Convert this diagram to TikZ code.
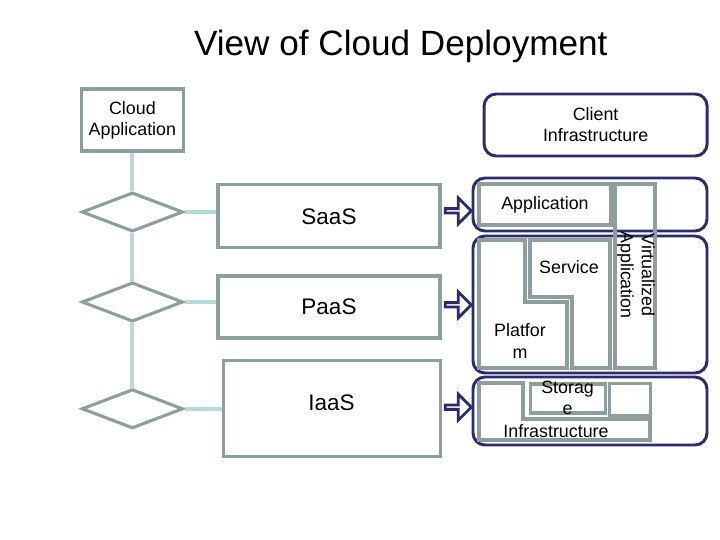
\documentclass[tikz,border=0pt]{standalone}
\usepackage{fontspec}
\setmainfont{Liberation Sans}
\usetikzlibrary{shapes.geometric, shapes.arrows}
\definecolor{boxgray}{RGB}{140,158,158}
\definecolor{linkblue}{RGB}{180,218,218}
\definecolor{deepnavy}{RGB}{43,43,114}

\begin{document}
\begin{tikzpicture}[scale=1,
  grbox/.style={rectangle,draw=boxgray,line width=2.2pt,inner sep=0pt,align=center},
  nvbox/.style={rectangle,rounded corners=0.3cm,draw=deepnavy,line width=2.1pt,inner sep=0pt,align=center},
  grshape/.style={draw=boxgray,line width=2.2pt},
  choice/.style={diamond,draw=boxgray,line width=2.2pt,inner sep=0pt,minimum width=2.53cm,minimum height=0.98cm},
  link/.style={draw=linkblue,line width=2.8pt},
  goes/.style={single arrow,draw=deepnavy,fill=white,line width=2pt,inner sep=0pt,minimum width=0.65cm,minimum height=0.65cm,single arrow head extend=0.175cm},
  lbl/.style={font=\fontsize{12.7}{15}\selectfont,align=center,inner sep=0pt},
  big/.style={font=\fontsize{16}{19}\selectfont}]

\useasboundingbox (0,0) rectangle (18,-13.5);

\node[font=\fontsize{25}{30}\selectfont] (title) at (10.02,-1.15) {View of Cloud Deployment};

% left column
\node[grbox,lbl,minimum width=2.55cm,minimum height=1.55cm] (cloud) at (3.31,-3.0) {Cloud\\Application};

\node[choice] (d1) at (3.31,-5.3) {};
\node[choice] (d2) at (3.31,-7.55) {};
\node[choice] (d3) at (3.31,-10.22) {};

\node[grbox,big,minimum width=5.55cm,minimum height=1.575cm] (saas) at (8.225,-5.41) {SaaS};
\node[grbox,big,minimum width=5.55cm,minimum height=1.55cm] (paas) at (8.225,-7.675) {PaaS};
\node[grbox,big,minimum width=5.425cm,minimum height=2.4cm,text depth=0.3cm] (iaas) at (8.29,-10.22) {IaaS};

\draw[link] (cloud) -- (d1);
\draw[link] (d1) -- (d2);
\draw[link] (d2) -- (d3);
\draw[link] (d1.east) -- (d1.east -| saas.west);
\draw[link] (d2.east) -- (d2.east -| paas.west);
\draw[link] (d3.east) -- (d3.east -| iaas.west);

\node[goes] (a1) at (11.43,-5.27) {};
\node[goes] (a2) at (11.43,-7.62) {};
\node[goes] (a3) at (11.43,-10.18) {};

% right column
\node[nvbox,lbl,minimum width=5.575cm,minimum height=1.55cm] (client) at (14.89,-3.125) {Client\\Infrastructure};

\node[nvbox,minimum width=5.85cm,minimum height=1.325cm] (approw) at (14.75,-5.1125) {};
\node[nvbox,minimum width=5.85cm,minimum height=3.425cm] (platrow) at (14.75,-7.6125) {};
\node[nvbox,minimum width=5.85cm,minimum height=1.7cm] (infrarow) at (14.75,-10.275) {};

\node[grbox,lbl,minimum width=3.3cm,minimum height=1.025cm] (app) at (13.625,-5.1125) {Application};
\node[grbox,minimum width=1.0cm,minimum height=4.6cm] (virt) at (15.875,-6.9) {};
\node[lbl,rotate=-90] (virtlbl) at (15.9,-6.875) {Virtualized\\Application};

\draw[grshape] (11.975,-6.0) -- (13.125,-6.0) -- (13.125,-7.55) -- (14.175,-7.55) -- (14.175,-9.2) -- (11.975,-9.2) -- cycle;
\draw[grshape] (13.25,-6.0) -- (15.25,-6.0) -- (15.25,-9.2) -- (14.3,-9.2) -- (14.3,-7.425) -- (13.25,-7.425) -- cycle;
\node[lbl] (service) at (14.225,-6.675) {Service};
\node[lbl] (platform) at (13.0,-8.525) {Platfor\\m};

\draw[grshape] (11.975,-9.575) -- (13.075,-9.575) -- (13.075,-10.475) -- (16.25,-10.475) -- (16.25,-11.0) -- (11.975,-11.0) -- cycle;
\node[grbox,minimum width=1.875cm,minimum height=0.725cm] (storage) at (14.19,-9.9625) {};
\node[grbox,minimum width=1.025cm,minimum height=0.8cm] (spare) at (15.74,-9.99) {};
\node[lbl] (storagelbl) at (14.19,-9.95) {Storag\\e};
\node[lbl] (infra) at (13.9,-10.775) {Infrastructure};

\end{tikzpicture}
\end{document}
